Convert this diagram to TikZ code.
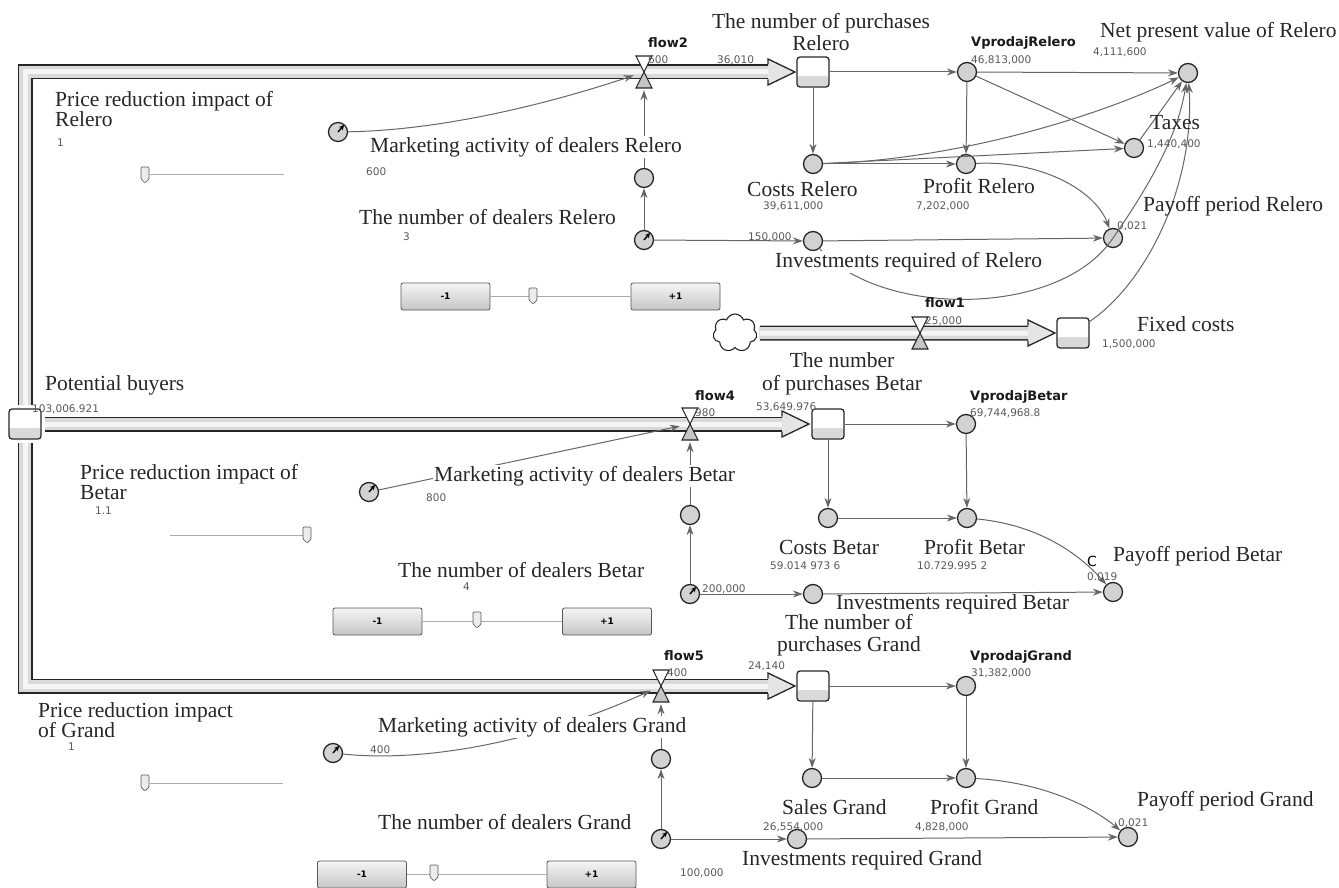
\documentclass[tikz,border=0pt]{standalone}
\usepackage{fontspec}
\setmainfont{Liberation Serif}
\newfontfamily\numfont{DejaVu Sans}
\usetikzlibrary{arrows.meta,shapes.symbols}
\newcommand\drawhead[1]{%
  \fill[gray!20] (#1) ++(0,-13) -- ++(27,13) -- ++(-27,13) -- cycle;
  \draw[black!85, line width=1.3pt, line join=miter] (#1) ++(0,-7.5) -- ++(0,-5.5) -- ++(27,13) -- ++(-27,13) -- ++(0,-5.5);}
\newcommand\sliderknob[1]{%
  \filldraw[knob] (#1) ++(-4,-8) -- ++(8,0) -- ++(0,12) -- ++(-4,4) -- ++(-4,-4) -- cycle;}
\begin{document}
\begin{tikzpicture}[x=1pt,y=-1pt,
  lbl/.style={font=\fontsize{21.5}{18}\selectfont, text=black!85, inner sep=0pt, anchor=west, align=left},
  lblc/.style={lbl, font=\fontsize{21.5}{22.5}\selectfont, anchor=center, align=center},
  wlbl/.style={lbl, fill=white, inner sep=1pt},
  num/.style={font=\numfont\fontsize{10.5}{12}\selectfont, text=black!65, inner sep=0pt, anchor=west},
  bname/.style={font=\numfont\bfseries\fontsize{13}{14}\selectfont, text=black!90, inner sep=0pt, anchor=west},
  var/.style={circle, minimum size=19pt, inner sep=0pt, fill=gray!35, draw=black!85, line width=1.3pt},
  stock/.style={rectangle, rounded corners=3pt, minimum width=32pt, minimum height=30pt, inner sep=0pt,
    draw=black!85, line width=1.3pt, fill=white,
    path picture={\fill[gray!30] ([yshift=1pt]path picture bounding box.south west) rectangle ([yshift=11pt]path picture bounding box.south east);}},
  valve/.style={rectangle, minimum width=20pt, minimum height=36pt, inner sep=0pt, path picture={
    \filldraw[fill=white, draw=black!85, line width=1.1pt, line join=miter]
      ([shift={(-8pt,16pt)}]path picture bounding box.center) -- ([shift={(8pt,16pt)}]path picture bounding box.center) -- (path picture bounding box.center) -- cycle;
    \filldraw[fill=gray!45, draw=black!85, line width=1.1pt, line join=miter]
      ([shift={(-8pt,-16pt)}]path picture bounding box.center) -- ([shift={(8pt,-16pt)}]path picture bounding box.center) -- (path picture bounding box.center) -- cycle;}},
  link/.style={draw=black!60, line width=1pt, -{Stealth[length=10pt,width=7pt]}},
  paramtick/.style={line width=1.4pt, black, -{Stealth[length=5pt,width=5pt]}},
  pipeout/.style={line width=15pt, black!85},
  pipein/.style={line width=12pt, gray!30},
  pipehi/.style={line width=5pt, gray!8},
  btn/.style={rectangle, rounded corners=2pt, minimum width=89pt, minimum height=27pt, inner sep=0pt,
    draw=gray!70!black, line width=0.8pt, top color=gray!8, bottom color=gray!45,
    font=\numfont\bfseries\fontsize{9}{10}\selectfont},
  sline/.style={draw=gray!65, line width=1pt},
  knob/.style={fill=gray!15, draw=gray!70!black, line width=0.7pt, rounded corners=1pt}
]
\useasboundingbox (0,0) rectangle (1339,888);

% ---------- stocks and cloud ----------
\coordinate (hR) at (768,72);
\coordinate (hB) at (782,424);
\coordinate (hG) at (768,686);
\coordinate (h1) at (1028,333);
\node[stock] (pb) at (25,424) {};
\node[stock] (sR) at (813,72) {};
\node[stock] (sB) at (828,424) {};
\node[stock] (sG) at (813,686) {};
\node[stock] (fc) at (1073,333) {};
\node[cloud, cloud puffs=7, cloud puff arc=140, aspect=1.15, draw=black!85, line width=1.1pt,
  minimum width=44pt, minimum height=38pt, inner sep=0pt, fill=white] (cl) at (735,333) {};

% ---------- pipes ----------
\foreach \st in {pipeout,pipein,pipehi} {
  \draw[\st] ([yshift=3pt]pb.north) |- (hR);
  \draw[\st] ([xshift=3pt]pb.east) -- (hB);
  \draw[\st] ([yshift=-3pt]pb.south) |- (hG);
  \draw[\st] ([xshift=3pt]cl.east) -- (h1);
}
\drawhead{hR}
\drawhead{hB}
\drawhead{hG}
\drawhead{h1}

% ---------- valves ----------
\node[valve] (flow2) at (644,72) {};
\node[valve] (flow4) at (690,424) {};
\node[valve] (flow5) at (661,686) {};
\node[valve] (flow1) at (920,333) {};

% ---------- variables ----------
\node[var] (vR) at (967,72) {};
\node[var] (npv) at (1188,73) {};
\node[var] (tax) at (1134,148) {};
\node[var] (cR) at (813,164) {};
\node[var] (pR) at (966,164) {};
\node[var] (invR) at (813,241) {};
\node[var] (payR) at (1113,238) {};
\node[var] (aR) at (644,178) {};
\node[var] (dlR) at (644,240) {};
\node[var] (mkR) at (338,132) {};

\node[var] (vB) at (966,424) {};
\node[var] (cB) at (828,518) {};
\node[var] (pB) at (967,518) {};
\node[var] (invB) at (813,594) {};
\node[var] (payB) at (1113,592) {};
\node[var] (aB) at (690,515) {};
\node[var] (dlB) at (690,594) {};
\node[var] (mkB) at (369,492) {};

\node[var] (vG) at (966,686) {};
\node[var] (sG2) at (812,778) {};
\node[var] (pG) at (966,778) {};
\node[var] (invG) at (797,839) {};
\node[var] (payG) at (1128,837) {};
\node[var] (aG) at (661,759) {};
\node[var] (dlG) at (661,839) {};
\node[var] (mkG) at (333,753) {};

\foreach \n in {mkR,dlR,mkB,dlB,mkG,dlG}
  \draw[paramtick] (\n.center) -- ([shift={(6pt,7pt)}]\n.center);

% ---------- connectors: Relero ----------
\draw[link] (sR) -- (vR);
\draw[link] (sR) -- (cR);
\draw[link] (vR) -- (npv);
\draw[link] (vR) -- (pR);
\draw[link] (vR) -- (tax);
\draw[link] (cR) -- (pR);
\draw[link] (cR) -- (tax);
\draw[link] (cR) .. controls (950,160) and (1090,120) .. (npv);
\draw[link] (pR) .. controls (1040,160) and (1095,190) .. (payR);
\draw[link] (invR) -- (payR);
\draw[link] (invR) .. controls (880,318) and (1060,318) .. (payR.center) .. controls (1166,162) and (1180,120) .. (npv);
\draw[link] (fc) .. controls (1150,280) and (1195,180) .. (npv);
\draw[link] (tax) -- (npv);
\draw[link] (dlR) -- (invR);
\draw[link] (dlR) -- (aR);
\draw[link] (aR) -- (flow2);
\draw[link] (mkR) .. controls (450,130) and (560,100) .. (flow2);

% ---------- connectors: Betar ----------
\draw[link] (sB) -- (vB);
\draw[link] (sB) -- (cB);
\draw[link] (vB) -- (pB);
\draw[link] (cB) -- (pB);
\draw[link] (pB) .. controls (1040,525) and (1080,555) .. (payB);
\draw[link] (invB) -- (payB);
\draw[link] (dlB) -- (invB);
\draw[link] (dlB) -- (aB);
\draw[link] (aB) -- (flow4);
\draw[link] (mkB) -- (flow4);

% ---------- connectors: Grand ----------
\draw[link] (sG) -- (vG);
\draw[link] (sG) -- (sG2);
\draw[link] (vG) -- (pG);
\draw[link] (sG2) -- (pG);
\draw[link] (pG) .. controls (1040,782) and (1090,805) .. (payG);
\draw[link] (invG) -- (payG);
\draw[link] (dlG) -- (invG);
\draw[link] (dlG) -- (aG);
\draw[link] (aG) -- (flow5);
\draw[link] (mkG) .. controls (420,762) and (530,745) .. (flow5);

% ---------- labels: Relero ----------
\node[lbl] (tPR) at (55,109) {Price reduction impact of\\Relero};
\node[num] (nPR) at (57,143) {1};
\node[wlbl] (tMR) at (369,147) {Marketing activity of dealers Relero};
\node[num] (nMR) at (366,172) {600};
\node[lbl] (tDR) at (359,217) {The number of dealers Relero};
\node[num] (nDR) at (403,237) {3};
\node[lblc] (tSR) at (821,32) {The number of purchases\\Relero};
\node[bname] (tF2) at (648,43) {flow2};
\node[num] (nF2) at (648,60) {600};
\node[num] (nSR) at (717,60) {36,010};
\node[bname] (tVR) at (971,43) {VprodajRelero};
\node[num] (nVR) at (971,60) {46,813,000};
\node[lbl] (tNPV) at (1100,32) {Net present value of Relero};
\node[num] (nNPV) at (1093,52) {4,111,600};
\node[lbl] (tTax) at (1150,123) {Taxes};
\node[num] (nTax) at (1147,144) {1,440,400};
\node[lbl] (tCR) at (747,189) {Costs Relero};
\node[num] (nCR) at (763,206) {39,611,000};
\node[lbl] (tPrR) at (923,186) {Profit Relero};
\node[num] (nPrR) at (916,206) {7,202,000};
\node[lbl] (tPayR) at (1143,206) {Payoff period Relero};
\node[num] (nPayR) at (1117,226) {0,021};
\node[wlbl] (tIR) at (774,262) {Investments required of Relero};
\node[num] (nIR) at (748,237) {150,000};
\node[bname] (tF1) at (925,303) {flow1};
\node[num] (nF1) at (925,321) {25,000};
\node[lbl] (tFC) at (1137,324) {Fixed costs};
\node[num] (nFC) at (1102,344) {1,500,000};

% ---------- labels: Betar ----------
\node[lbl] (tPB) at (45,385) {Potential buyers};
\node[num] (nPB) at (32,409) {103,006.921};
\node[lbl] (tPRB) at (80,482) {Price reduction impact of\\Betar};
\node[num] (nPRB) at (95,511) {1.1};
\node[wlbl] (tMB) at (433,476) {Marketing activity of dealers Betar};
\node[num] (nMB) at (426,498) {800};
\node[bname] (tF4) at (695,396) {flow4};
\node[num] (nF4) at (695,413) {980};
\node[lblc] (tSB) at (842,374) {The number\\of purchases Betar};
\node[num] (nSB) at (756,407) {53,649.976};
\node[bname] (tVB) at (970,397) {VprodajBetar};
\node[num] (nVB) at (970,413) {69,744,968.8};
\node[lbl] (tCB) at (779,547) {Costs Betar};
\node[num] (nCB) at (770,566) {59.014 973 6};
\node[lbl] (tPrB) at (924,547) {Profit Betar};
\node[num] (nPrB) at (917,566) {10.729.995 2};
\node[lbl] (tPayB) at (1113,556) {Payoff period Betar};
\node[font=\numfont\fontsize{14}{14}\selectfont, inner sep=0pt] (cmk) at (1092,561) {C};
\node[num] (nPayB) at (1087,577) {0.019};
\node[lbl] (tDB) at (398,570) {The number of dealers Betar};
\node[num] (nDB) at (463,587) {4};
\node[num] (nDB2) at (702,589) {200,000};
\node[lbl] (tIB) at (836,604) {Investments required Betar};

% ---------- labels: Grand ----------
\node[lblc] (tSG) at (849,635) {The number of\\purchases Grand};
\node[bname] (tF5) at (664,656) {flow5};
\node[num] (nF5) at (667,673) {400};
\node[num] (nSG) at (748,666) {24,140};
\node[bname] (tVG) at (970,657) {VprodajGrand};
\node[num] (nVG) at (971,673) {31,382,000};
\node[lbl] (tPRG) at (38,720) {Price reduction impact\\of Grand};
\node[num] (nPRG) at (68,747) {1};
\node[wlbl] (tMG) at (377,727) {Marketing activity of dealers Grand};
\node[num] (nMG) at (370,750) {400};
\node[lbl] (tSaG) at (782,807) {Sales Grand};
\node[num] (nSaG) at (763,827) {26,554,000};
\node[lbl] (tPrG) at (930,807) {Profit Grand};
\node[num] (nPrG) at (915,827) {4,828,000};
\node[lbl] (tPayG) at (1137,801) {Payoff period Grand};
\node[num] (nPayG) at (1118,823) {0,021};
\node[lbl] (tDG) at (378,822) {The number of dealers Grand};
\node[lbl] (tIG) at (742,860) {Investments required Grand};
\node[num] (nIG) at (680,873) {100,000};

% ---------- sliders and buttons ----------
\draw[sline] (150,175) -- (284,175);
\sliderknob{145,175}
\draw[sline] (170,535) -- (305,535);
\sliderknob{307,535}
\draw[sline] (150,783) -- (283,783);
\sliderknob{145,783}

\node[btn] (bR1) at (445.5,296.5) {-1};
\node[btn] (bR2) at (675.5,296.5) {+1};
\draw[sline] (bR1.east) -- (bR2.west);
\sliderknob{533,296}
\node[btn] (bB1) at (377.5,621.5) {-1};
\node[btn] (bB2) at (607,621.5) {+1};
\draw[sline] (bB1.east) -- (bB2.west);
\sliderknob{477,620}
\node[btn] (bG1) at (362,874.5) {-1};
\node[btn] (bG2) at (591.5,874.5) {+1};
\draw[sline] (bG1.east) -- (bG2.west);
\sliderknob{434,873}
\end{tikzpicture}
\end{document}
